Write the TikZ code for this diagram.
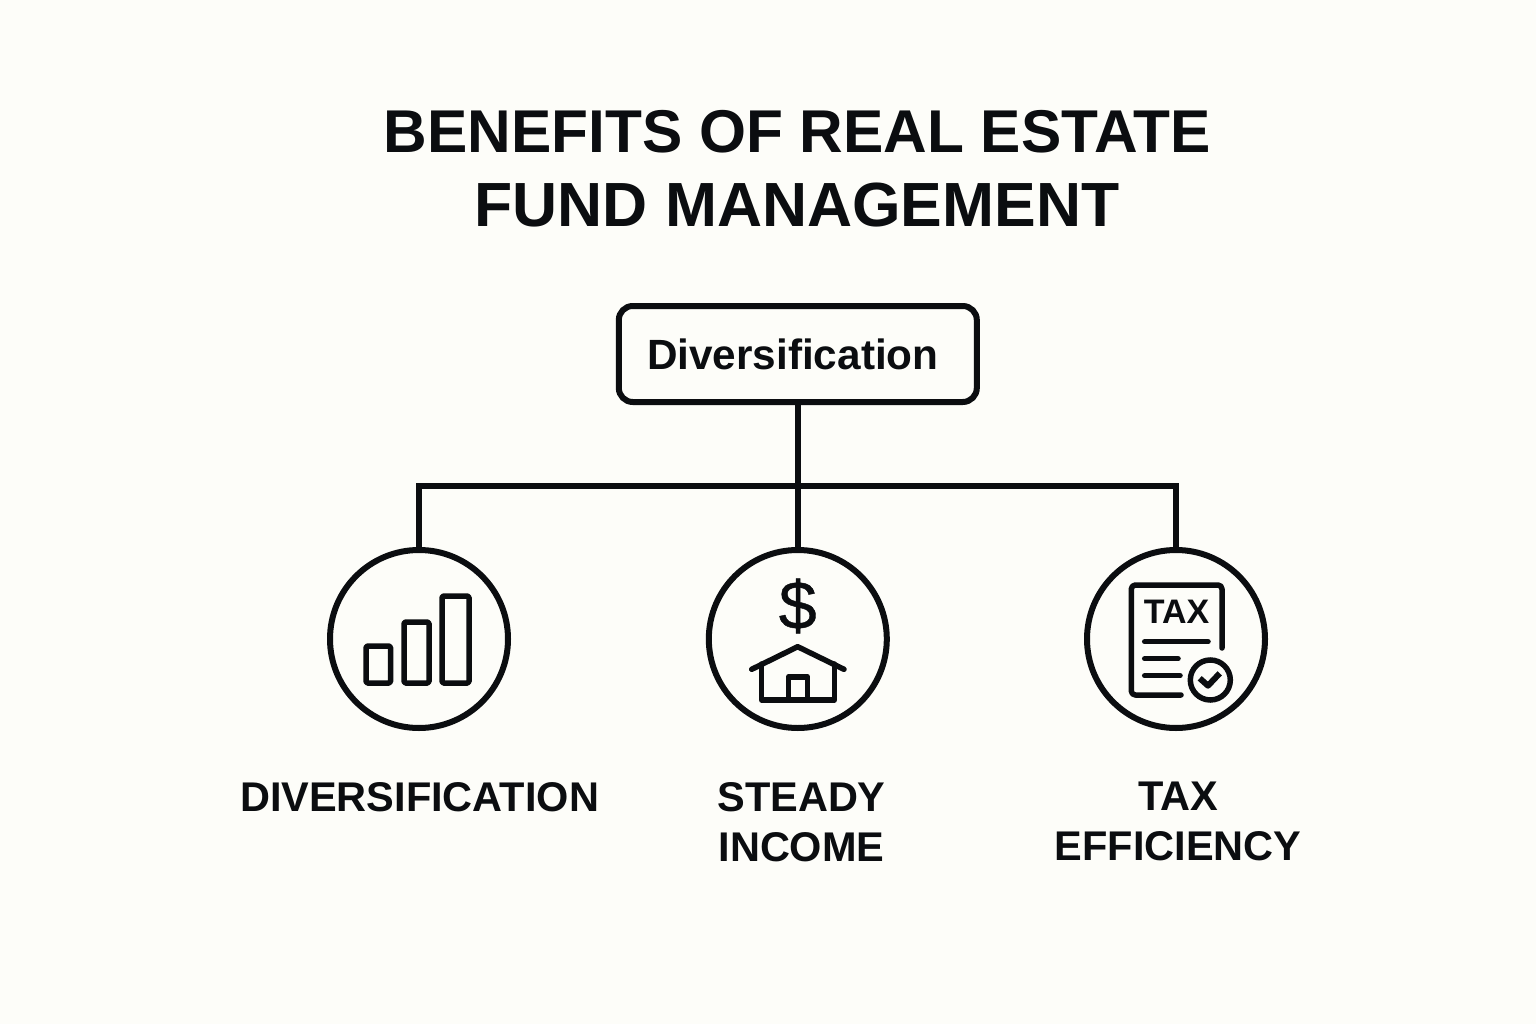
\documentclass[tikz,border=0pt]{standalone}
\usepackage{fontspec}
\setmainfont{Liberation Sans}
\definecolor{paper}{HTML}{FDFDF9}
\definecolor{ink}{HTML}{0B0D10}
\tikzset{
  wire/.style = {draw = ink, line width = 6pt},
  iconline/.style = {draw = ink, line width = 5.5pt, line join = round, line cap = round},
  ring/.style = {circle, draw = ink, line width = 6pt, minimum size = 178pt, inner sep = 0pt},
  bigtitle/.style = {align = center, text = ink, inner sep = 0pt, anchor = north, font = \bfseries\fontsize{60.4}{74}\selectfont},
  caption/.style = {align = center, text = ink, inner sep = 0pt, anchor = north, font = \bfseries\fontsize{41.5}{50}\selectfont}
}
\begin{document}
\begin{tikzpicture}[x = 1pt, y = -1pt]
\fill[paper] (0, 0) rectangle (1536, 1024);
\useasboundingbox (0, 0) rectangle (1536, 1024);
\node[bigtitle] (title) at (797, 110) {BENEFITS OF REAL ESTATE\\\fontsize{62.4}{74}\selectfont FUND MANAGEMENT};
\node[wire, rounded corners = 14pt, minimum width = 358pt, minimum height = 96pt, inner sep = 0pt, text = ink, font = \bfseries\fontsize{42.3}{50}\selectfont] (topbox) at (797.8, 354) {\mbox{Diversification\hspace{10pt}}};
\node[ring] (ringleft) at (419, 639) {};
\node[ring] (ringmiddle) at (797.8, 639) {};
\node[ring] (ringright) at (1176, 639) {};
\coordinate (bus) at (797.8, 486);
\draw[wire] (topbox.south) -- (ringmiddle.north);
\draw[wire] (ringleft.north) |- (bus) -| (ringright.north);
\draw[iconline, line cap = butt, rounded corners = 1.5pt] (366, 646) rectangle (390.5, 683);
\draw[iconline, line cap = butt, rounded corners = 1.5pt] (404, 622) rectangle (429, 683);
\draw[iconline, line cap = butt, rounded corners = 1.5pt] (442, 596) rectangle (469, 683);
\node[text = ink, inner sep = 0pt, font = \fontsize{68}{68}\selectfont\addfontfeature{FakeBold=0.6}] (dollar) at (797.7, 606) {\$};
\draw[iconline] (751.7, 669.3) -- (797.7, 646.7) -- (844, 669.3);
\draw[iconline] (761.7, 664) -- (761.7, 700) -- (834.3, 700) -- (834.3, 664);
\draw[iconline, line cap = butt] (788.3, 700) -- (788.3, 677) -- (807.7, 677) -- (807.7, 700);
\draw[iconline, rounded corners = 4pt] (1222, 648) -- (1222, 585) -- (1131.3, 585) -- (1131.3, 695) -- (1181, 695);
\node[text = ink, inner sep = 0pt, font = \bfseries\fontsize{34}{34}\selectfont] (taxword) at (1176.5, 612) {TAX};
\draw[iconline] (1144.7, 641.7) -- (1208, 641.7);
\draw[iconline] (1144.7, 658.7) -- (1178, 658.7);
\draw[iconline] (1144.7, 675.7) -- (1180, 675.7);
\node[circle, draw = ink, line width = 5.5pt, minimum size = 40pt, inner sep = 0pt] (tick) at (1210.3, 680) {};
\draw[iconline, line cap = butt, line width = 6pt] (1199.7, 678.3) -- (1208, 685.7) -- (1219.7, 673.3);
\node[caption] (captionleft) at (419.5, 782) {DIVERSIFICATION};
\node[caption] (captionmiddle) at (801.5, 782) {STEADY\\INCOME};
\node[caption] (captionright) at (1178, 782) {TAX\\EFFICIENCY};
\end{tikzpicture}
\end{document}
